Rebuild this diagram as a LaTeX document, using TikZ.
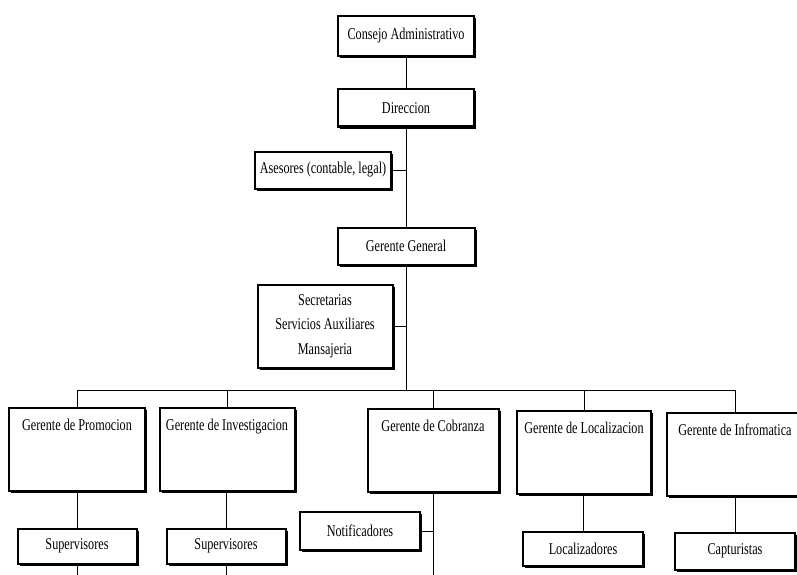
\documentclass[tikz,border=0pt]{standalone}
\usepackage{fontspec}
\setmainfont{Liberation Serif}[FakeStretch=0.74]
\usetikzlibrary{shadows}
\begin{document}
\begin{tikzpicture}[x=1pt,y=-1pt,
  box/.style={draw=black, fill=white, line width=2pt, inner sep=0pt,
    font=\fontsize{16.5}{24.5}\selectfont, align=center,
    drop shadow={shadow xshift=2pt, shadow yshift=-2pt, fill=black, opacity=1}},
  small/.style={box, minimum width=#1, minimum height=37pt},
  tall/.style={box, minimum width=#1, minimum height=83pt, text height=22pt, text depth=61pt},
  link/.style={line width=1pt}]
\useasboundingbox (0,0) rectangle (797,575);

% top of the chart
\node[small=136, minimum height=40pt] (consejo) at (406,36) {Consejo Administrativo};
\node[small=136] (direccion) at (406,108) {Direccion};
\node[small=136] (asesores) at (323,170) {Asesores (contable, legal)};
\node[small=137] (general) at (406,246) {Gerente General};
\node[box, minimum width=135, minimum height=83] (staff) at (325,326)
  {Secretarias\\Servicios Auxiliares\\Mansajeria};

% managers
\node[tall=136, anchor=north] (promo) at (77,407) {Gerente de Promocion};
\node[tall=135, anchor=north] (invest) at (227,407) {Gerente de Investigacion};
\node[tall=131, anchor=north] (cobra) at (433,408) {Gerente de Cobranza};
\node[tall=134, anchor=north] (local) at (584,410) {Gerente de Localizacion};
\node[tall=136, anchor=north] (info) at (735,412) {Gerente de Infromatica};

% staff under the managers
\node[small=119, minimum height=35pt] (sup1) at (77,546) {Supervisores};
\node[small=119, minimum height=35pt] (sup2) at (226,546) {Supervisores};
\node[small=120, minimum height=38pt] (notif) at (360,531) {Notificadores};
\node[small=120, minimum height=34pt] (locz) at (583,549) {Localizadores};
\node[small=120] (capt) at (735,551) {Capturistas};

% bus and loose ends
\coordinate (busL) at (77,390);
\coordinate (busC) at (406,390);
\coordinate (busR) at (735,390);
\coordinate (end1) at (77,575);
\coordinate (end2) at (226,575);
\coordinate (end3) at (433,575);

% connectors
\draw[link] (consejo.south) -- (direccion.north);
\draw[link] (direccion.south) -- (general.north);
\draw[link] (asesores.east) -- (asesores.east -| direccion.south);
\draw[link] (general.south) -- (busC);
\draw[link] (staff.east) -- (staff.east -| general.south);
\draw[link] (busL) -- (busR);
\draw[link] (busL) -- (promo.north);
\draw[link] (busL -| invest.north) -- (invest.north);
\draw[link] (busL -| cobra.north) -- (cobra.north);
\draw[link] (busL -| local.north) -- (local.north);
\draw[link] (busR) -- (info.north);
\draw[link] (promo.south) -- (sup1.north);
\draw[link] (sup1.south) -- (end1);
\draw[link] (invest.south -| sup2.north) -- (sup2.north);
\draw[link] (sup2.south) -- (end2);
\draw[link] (cobra.south) -- (end3);
\draw[link] (notif.east) -- (notif.east -| cobra.south);
\draw[link] (local.south -| locz.north) -- (locz.north);
\draw[link] (info.south) -- (capt.north);
\end{tikzpicture}
\end{document}
